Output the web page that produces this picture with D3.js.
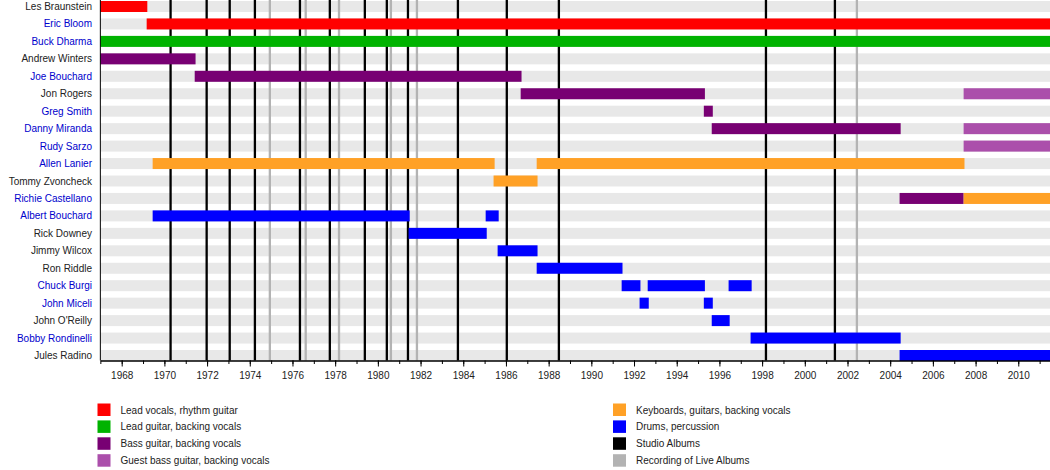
<!DOCTYPE html>
<html lang="en">
<head>
    <meta charset="UTF-8" />
    <title>Blue Öyster Cult - Timeline</title>
    <script src="https://d3js.org/d3.v7.min.js"></script>
    <style>
        body {
            margin: 0;
            background: #fff;
            font-family: "Liberation Sans", Arial, sans-serif;
        }
        .axis text {
            font: 10px "Liberation Sans", Arial, sans-serif;
            fill: #222;
        }
    </style>
</head>
<body>
    <svg id="chart" width="1050" height="470"></svg>
    <script>
        var w = 1050;
        var h = 470;

        // members, top to bottom
        var members = ["Les Braunstein", "Eric Bloom", "Buck Dharma", "Andrew Winters", "Joe Bouchard",
            "Jon Rogers", "Greg Smith", "Danny Miranda", "Rudy Sarzo", "Allen Lanier", "Tommy Zvoncheck",
            "Richie Castellano", "Albert Bouchard", "Rick Downey", "Jimmy Wilcox", "Ron Riddle",
            "Chuck Burgi", "John Miceli", "John O'Reilly", "Bobby Rondinelli", "Jules Radino"];

        // names shown as links (blue)
        var linkedMembers = ["Eric Bloom", "Buck Dharma", "Joe Bouchard", "Greg Smith", "Danny Miranda",
            "Rudy Sarzo", "Allen Lanier", "Richie Castellano", "Albert Bouchard", "Chuck Burgi",
            "John Miceli", "Bobby Rondinelli"];

        var roles = ["Lead vocals, rhythm guitar", "Lead guitar, backing vocals", "Bass guitar, backing vocals",
            "Guest bass guitar, backing vocals", "Keyboards, guitars, backing vocals", "Drums, percussion"];
        var roleColors = ["#ff0000", "#00b300", "#780073", "#ab4fab", "#ffa126", "#0000ff"];

        var startYear = 1967;
        var endYear = 2011.5;

        // [member, role index, from, to]
        var periods = [
            ["Les Braunstein", 0, 1967, 1969.2],
            ["Eric Bloom", 0, 1969.17, endYear],
            ["Buck Dharma", 1, 1967, endYear],
            ["Andrew Winters", 2, 1967, 1971.46],
            ["Joe Bouchard", 2, 1971.42, 1986.73],
            ["Jon Rogers", 2, 1986.69, 1995.32],
            ["Jon Rogers", 3, 2007.44, endYear],
            ["Greg Smith", 2, 1995.27, 1995.69],
            ["Danny Miranda", 2, 1995.64, 2004.49],
            ["Danny Miranda", 3, 2007.44, endYear],
            ["Rudy Sarzo", 3, 2007.44, endYear],
            ["Allen Lanier", 4, 1969.45, 1985.47],
            ["Allen Lanier", 4, 1987.44, 2007.48],
            ["Tommy Zvoncheck", 4, 1985.42, 1987.48],
            ["Richie Castellano", 2, 2004.44, 2007.44],
            ["Richie Castellano", 4, 2007.44, endYear],
            ["Albert Bouchard", 5, 1969.45, 1981.49],
            ["Albert Bouchard", 5, 1985.05, 1985.66],
            ["Rick Downey", 5, 1981.44, 1985.1],
            ["Jimmy Wilcox", 5, 1985.61, 1987.48],
            ["Ron Riddle", 5, 1987.44, 1991.46],
            ["Chuck Burgi", 5, 1991.42, 1992.3],
            ["Chuck Burgi", 5, 1992.64, 1995.32],
            ["Chuck Burgi", 5, 1996.43, 1997.51],
            ["John Miceli", 5, 1992.26, 1992.69],
            ["John Miceli", 5, 1995.27, 1995.69],
            ["John O'Reilly", 5, 1995.64, 1996.48],
            ["Bobby Rondinelli", 5, 1997.46, 2004.49],
            ["Jules Radino", 5, 2004.44, endYear]
        ];

        // album release / recording dates
        var studioAlbums = [1970.29, 1971.98, 1973.06, 1974.24, 1976.35, 1977.75, 1979.39,
            1980.42, 1981.41, 1983.75, 1986.04, 1988.48, 1998.18, 2001.41];
        var liveAlbums = [1974.94, 1976.62, 1978.18, 1980.61, 1981.83, 2002.44];

        var svg = d3.select("#chart");

        var xScale = d3.scaleLinear()
            .domain([startYear, endYear])
            .range([100.35, 1050.3]);

        var yScale = d3.scaleBand()
            .domain(members)
            .range([1, 361])
            .paddingInner(0.37)
            .paddingOuter(0);

        var plotBottom = 360.5;

        // grey background row bands
        svg.selectAll("rect.band")
            .data(members)
            .enter()
            .append("rect")
            .attr("class", "band")
            .attr("x", xScale(startYear))
            .attr("y", d => yScale(d))
            .attr("width", xScale(endYear) - xScale(startYear))
            .attr("height", yScale.bandwidth())
            .attr("fill", "#e8e8e8");

        // album lines
        svg.selectAll("line.live")
            .data(liveAlbums)
            .enter()
            .append("line")
            .attr("class", "live")
            .attr("x1", d => xScale(d))
            .attr("x2", d => xScale(d))
            .attr("y1", 0)
            .attr("y2", plotBottom)
            .attr("stroke", "#b3b3b3")
            .attr("stroke-width", 2.3);

        svg.selectAll("line.studio")
            .data(studioAlbums)
            .enter()
            .append("line")
            .attr("class", "studio")
            .attr("x1", d => xScale(d))
            .attr("x2", d => xScale(d))
            .attr("y1", 0)
            .attr("y2", plotBottom)
            .attr("stroke", "#000")
            .attr("stroke-width", 2.3);

        // member bars
        svg.selectAll("rect.bar")
            .data(periods)
            .enter()
            .append("rect")
            .attr("class", "bar")
            .attr("x", d => xScale(d[2]))
            .attr("y", d => yScale(d[0]))
            .attr("width", d => xScale(d[3]) - xScale(d[2]))
            .attr("height", yScale.bandwidth())
            .attr("fill", d => roleColors[d[1]]);

        // member names
        svg.selectAll("text.name")
            .data(members)
            .enter()
            .append("text")
            .attr("class", "name")
            .attr("x", 92)
            .attr("y", d => yScale(d) + yScale.bandwidth() / 2)
            .attr("dy", "0.35em")
            .attr("text-anchor", "end")
            .style("font-size", "10px")
            .attr("fill", d => linkedMembers.indexOf(d) >= 0 ? "#0000cc" : "#222")
            .text(d => d);

        // left axis line
        svg.append("line")
            .attr("x1", xScale(startYear))
            .attr("x2", xScale(startYear))
            .attr("y1", 0)
            .attr("y2", plotBottom)
            .attr("stroke", "#000")
            .attr("stroke-width", 1);

        // minor ticks every year
        svg.append("g")
            .attr("class", "axis")
            .attr("transform", "translate(0," + plotBottom + ")")
            .call(d3.axisBottom(xScale)
                .tickValues(d3.range(startYear, 2012))
                .tickSize(3.5)
                .tickSizeOuter(0)
                .tickFormat(""));

        // major ticks with labels on even years
        svg.append("g")
            .attr("class", "axis")
            .attr("transform", "translate(0," + plotBottom + ")")
            .call(d3.axisBottom(xScale)
                .tickValues(d3.range(1968, 2012, 2))
                .tickSize(6)
                .tickSizeOuter(0)
                .tickPadding(5)
                .tickFormat(d3.format("d")));

        // legend
        var legendItems = roles.map((r, i) => ({ label: r, color: roleColors[i] }));
        legendItems.push({ label: "Studio Albums", color: "#000" });
        legendItems.push({ label: "Recording of Live Albums", color: "#b3b3b3" });

        var legend = svg.selectAll("g.legend")
            .data(legendItems)
            .enter()
            .append("g")
            .attr("class", "legend")
            .attr("transform", (d, i) => "translate(" + (i < 4 ? 97.5 : 613) + "," + (403.5 + (i % 4) * 16.9) + ")");

        legend.append("rect")
            .attr("width", 13)
            .attr("height", 12.5)
            .attr("fill", d => d.color);

        legend.append("text")
            .attr("x", 23)
            .attr("y", 6.5)
            .attr("dy", "0.35em")
            .style("font-size", "10px")
            .attr("fill", "#222")
            .text(d => d.label);
    </script>
</body>
</html>
